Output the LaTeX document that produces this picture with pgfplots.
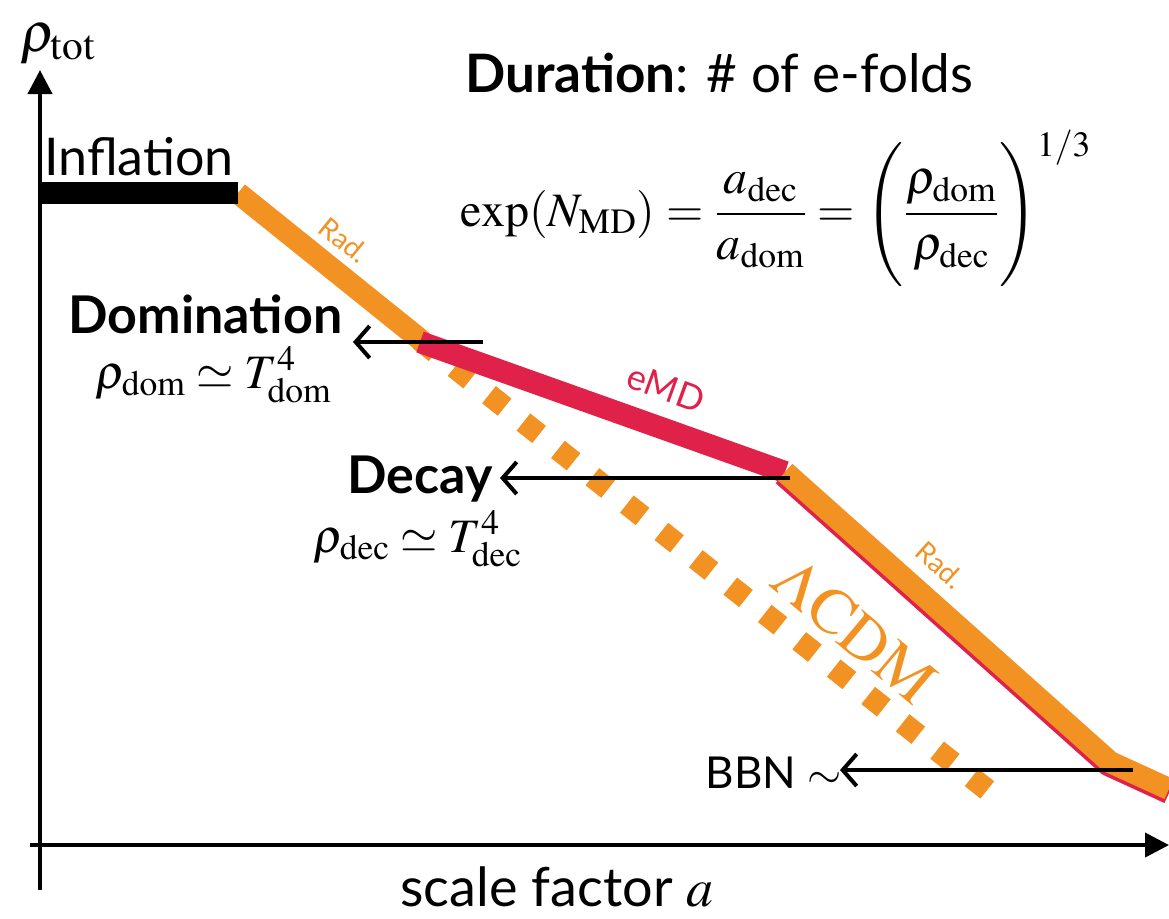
\documentclass[border=0pt]{standalone}
\usepackage{mathptmx}
\usepackage[no-math]{fontspec}
\setmainfont{Lato}
\usepackage{pgfplots}
\pgfplotsset{compat=1.18}
\usetikzlibrary{arrows.meta}
\definecolor{orng}{HTML}{F29222}
\definecolor{crim}{HTML}{E0224B}
\begin{document}
\begin{tikzpicture}
\begin{axis}[scale only axis, width=584.5pt, height=459pt,
  xmin=0, xmax=1169, ymin=0, ymax=918, y dir=reverse, hide axis, clip=false]
% LambdaCDM dotted continuation
\addplot[orng, line width=11pt, line cap=butt, dash pattern=on 10pt off 12pt] coordinates {(420,340) (1000,800)};
% thin red edge below late radiation
\addplot[crim, line width=11pt] coordinates {(783,475) (1108,765) (1169,793)};
% radiation after inflation
\addplot[orng, line width=11pt] coordinates {(238,193) (422,341)};
% early matter domination
\addplot[crim, line width=11pt] coordinates {(420,342) (785,472)};
% radiation after decay
\addplot[orng, line width=11pt, line join=miter] coordinates {(785,472) (1110,762) (1169,789)};
% inflation
\addplot[black, line width=11pt] coordinates {(40,193) (238,193)};

\coordinate (SW) at (axis cs:0,918);
\coordinate (NE) at (axis cs:1169,0);

% axes
\draw[line width=2pt, -{Triangle[length=12pt,width=12pt]}] (axis cs:40,890) -- (axis cs:40,70);
\draw[line width=2pt, -{Triangle[length=12pt,width=12pt]}] (axis cs:30,845) -- (axis cs:1169,845);

% arrows
\draw[line width=2pt, -{Straight Barb[length=7pt,width=16pt]}] (axis cs:483,342) -- (axis cs:353,342);
\draw[line width=2pt, -{Straight Barb[length=7pt,width=16pt]}] (axis cs:790,478) -- (axis cs:500,478);
\draw[line width=2pt, -{Straight Barb[length=7pt,width=16pt]}] (axis cs:1133,770) -- (axis cs:840,770);

% texts
\node[anchor=center, font=\fontsize{28}{32}\selectfont] at (axis cs:58,44) {$\rho_{\mathrm{tot}}$};
\node[anchor=base west, font=\fontsize{26}{30}\selectfont, inner sep=0pt] at (axis cs:44,175) {Inflation};
\node[anchor=base west, font=\fontsize{26.5}{30}\selectfont, inner sep=0pt] at (axis cs:465,92) {\textbf{Duration}: \# of e-folds};
\node[anchor=center, font=\fontsize{24}{28}\selectfont] at (axis cs:776,208)
  {$\displaystyle \exp(N_{\mathrm{MD}}) = \frac{a_{\mathrm{dec}}}{a_{\mathrm{dom}}} = \Biggl(\frac{\rho_{\mathrm{dom}}}{\rho_{\mathrm{dec}}}\Biggr)^{1/3}$};
\node[anchor=base west, font=\fontsize{26}{30}\selectfont\bfseries, inner sep=0pt] at (axis cs:68,333) {Domination};
\node[anchor=base west, font=\fontsize{24}{28}\selectfont, inner sep=0pt] at (axis cs:95,388) {$\rho_{\mathrm{dom}} \simeq T_{\mathrm{dom}}^4$};
\node[anchor=base east, font=\fontsize{26}{30}\selectfont\bfseries, inner sep=0pt] at (axis cs:493,493) {Decay};
\node[anchor=base west, font=\fontsize{24}{28}\selectfont, inner sep=0pt] at (axis cs:313,552) {$\rho_{\mathrm{dec}} \simeq T_{\mathrm{dec}}^4$};
\node[anchor=center, rotate=-20, text=crim, font=\fontsize{18}{20}\selectfont] at (axis cs:666,388) {eMD};
\node[anchor=center, rotate=-39, text=orng, font=\fontsize{14}{16}\selectfont] at (axis cs:344,240) {Rad.};
\node[anchor=center, rotate=-42, text=orng, font=\fontsize{14}{16}\selectfont] at (axis cs:940,565) {Rad.};
\node[anchor=center, rotate=-40, text=orng, font=\fontsize{32}{36}\selectfont] at (axis cs:855,630) {$\mathrm{\Lambda CDM}$};
\node[anchor=base east, font=\fontsize{22}{26}\selectfont, inner sep=0pt] at (axis cs:842,788) {BBN $\sim$};
\node[anchor=base, font=\fontsize{27}{30}\selectfont, inner sep=0pt] at (axis cs:557,906) {scale factor $a$};
\end{axis}
\pgfresetboundingbox
\useasboundingbox (SW) rectangle (NE);
\end{tikzpicture}
\end{document}
